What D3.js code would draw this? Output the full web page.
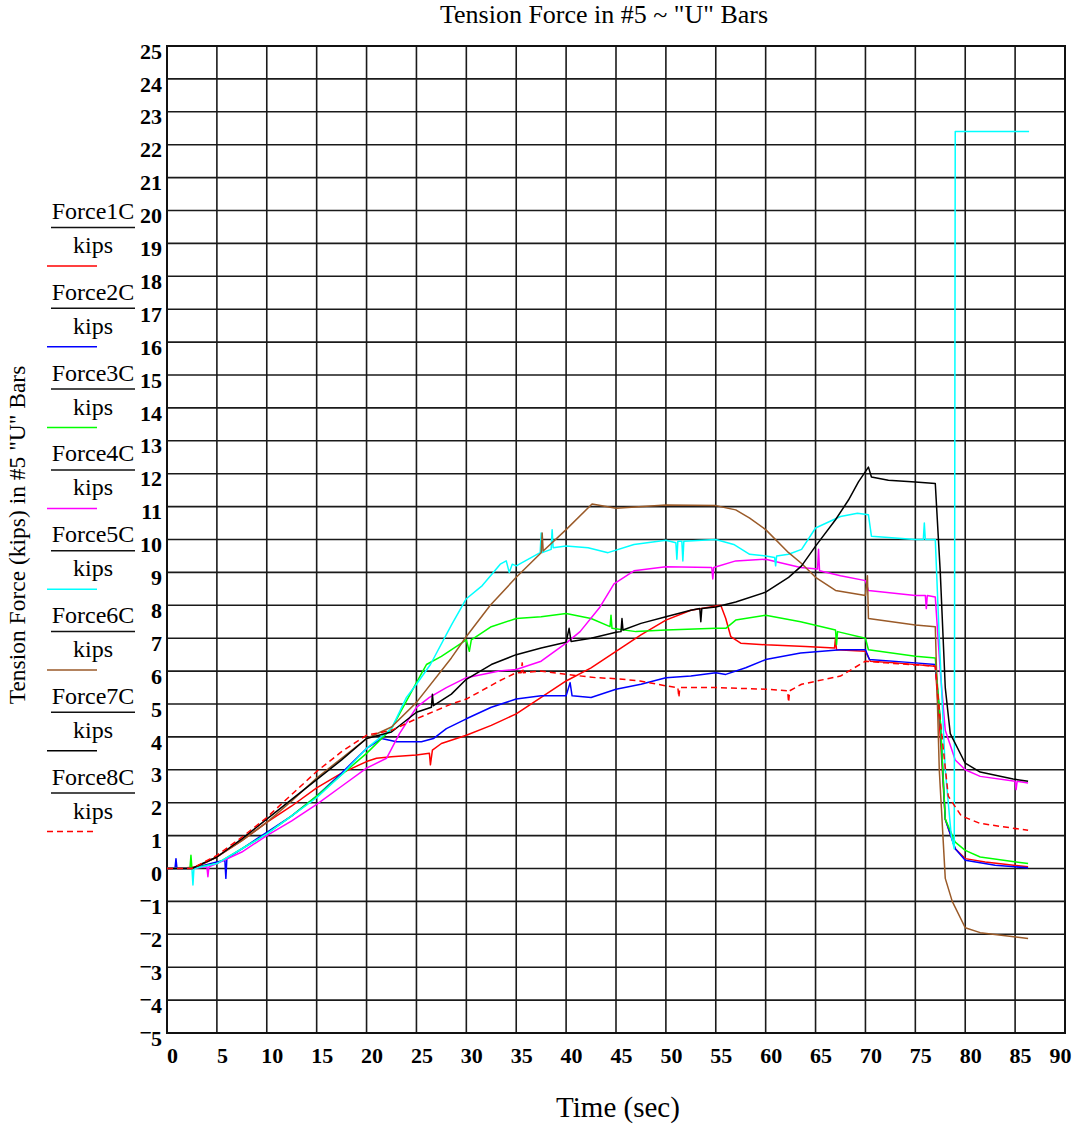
<!DOCTYPE html>
<html lang="en">
<head>
    <meta charset="utf-8">
    <script type="application/javascript" src="https://d3js.org/d3.v7.min.js"></script>
    <style>
        body { margin: 0; background: white; }
        text { font-family: "Liberation Serif", "Times New Roman", serif; fill: black; }
        .grid line { stroke: #1a1a1a; stroke-width: 1.6px; }
        .tick-lbl { font-size: 22px; font-weight: bold; }
        .series { fill: none; stroke-width: 1.5px; stroke-linejoin: round; }
        .legend-txt { font-size: 24px; text-anchor: middle; }
    </style>
</head>
<body>
<script type="application/javascript">
    // time (sec), force (kips)
    let force1C = [[0,0],[2,0.02],[3,0.05],[5,0.35],[7.5,0.85],[10,1.4],[12.5,1.9],[15,2.45],[17.5,2.9],[20,3.25],
        [21,3.35],[22.5,3.4],[25,3.45],[26.3,3.5],[26.4,3.15],[26.6,3.6],[27.5,3.8],[30,4.05],[32.5,4.35],[35,4.7],
        [37.5,5.2],[40,5.7],[42.5,6.1],[45,6.6],[47.5,7.1],[50,7.55],[52.5,7.85],[55.5,8.0],[56,7.6],[56.5,7.05],
        [57.5,6.85],[60,6.8],[64,6.75],[66.9,6.7],[67,7.0],[67.1,6.65],[70,6.6],[70.5,6.3],[73,6.25],[77,6.15],
        [77.5,4.0],[78,1.5],[79,0.6],[80,0.3],[82,0.2],[86.3,0.05]];
    let force2C = [[0,0],[0.8,0],[0.9,0.3],[1,0],[2.5,0],[5,0.2],[5.8,0.25],[5.9,-0.3],[6,0.3],[7.5,0.6],[10,1.1],
        [12.5,1.6],[15,2.2],[17.5,2.9],[20,3.65],[21.5,3.95],[23,3.85],[25.5,3.85],[26.7,3.95],[28,4.25],[30,4.55],
        [32.5,4.9],[35,5.15],[37.5,5.25],[40,5.25],[40.4,5.65],[40.6,5.25],[42.5,5.2],[45,5.45],[47.5,5.6],[50,5.8],
        [52.5,5.85],[55,5.95],[56,5.9],[58,6.1],[60,6.35],[63.5,6.55],[67.5,6.65],[70,6.65],[70.4,6.35],[75,6.25],
        [77,6.2],[77.5,4.5],[78,1.5],[79,0.6],[80,0.25],[83,0.1],[86.3,0.02]];
    let force3C = [[0,0],[2.3,0],[2.4,0.4],[2.5,0],[5,0.15],[7.5,0.6],[10,1.05],[12.5,1.6],[15,2.2],[17.5,2.85],
        [20,3.5],[22.5,4.25],[25,5.65],[26,6.2],[27.5,6.45],[30,6.95],[30.3,6.6],[30.5,6.95],[32.5,7.35],[35,7.6],
        [37.5,7.65],[40,7.75],[42.5,7.6],[44.4,7.35],[44.5,7.7],[44.6,7.3],[47,7.2],[50,7.25],[55,7.3],[56,7.3],
        [57,7.55],[60,7.7],[63.5,7.5],[67,7.25],[67.1,6.8],[67.2,7.2],[70,7.0],[70.3,6.65],[75,6.45],[77,6.4],
        [77.5,4.5],[78,1.5],[79,0.8],[80,0.55],[81.5,0.35],[86.3,0.15]];
    let force4C = [[0,0],[2.5,0],[4,0.05],[4.1,-0.25],[4.2,0.05],[5,0.15],[7.5,0.5],[10,1.0],[12.5,1.45],[15,1.95],
        [17.5,2.5],[20,3.05],[22,3.35],[23.3,4.1],[25,4.9],[26.3,5.2],[28,5.5],[30,5.8],[33.3,6.0],[35,6.05],
        [37.5,6.3],[40,6.85],[41.4,7.2],[43.4,7.95],[44.8,8.65],[46.8,9.05],[50,9.17],[54.6,9.15],[54.7,8.8],
        [54.8,9.15],[57,9.35],[60,9.4],[63.5,9.15],[65.2,9.1],[65.3,9.7],[65.4,9.05],[67.5,8.9],[70,8.75],[70.3,8.45],
        [75,8.3],[76,8.3],[76.1,7.9],[76.2,8.3],[77,8.25],[77.5,6],[78,4.2],[79,3.3],[80,3.0],[81.5,2.8],[85,2.65],
        [85.1,2.4],[85.2,2.65],[86.3,2.6]];
    let force5C = [[0,0],[2.5,0],[2.6,-0.5],[2.7,0],[5,0.15],[7.5,0.6],[10,1.05],[12.5,1.6],[15,2.15],[17.5,2.85],
        [20,3.65],[22.5,4.25],[24,5.2],[25,5.6],[26.4,6.2],[28.5,7.4],[30,8.2],[31.6,8.6],[33.4,9.25],[34,9.35],
        [34.3,9.0],[34.6,9.25],[35,9.2],[37.4,9.6],[37.5,10.2],[37.6,9.6],[38.5,9.7],[38.6,10.3],[38.7,9.75],[40,9.8],
        [42.2,9.75],[44.2,9.6],[46.8,9.85],[50,9.98],[51,9.9],[51.1,9.4],[51.2,9.95],[51.6,9.95],[51.7,9.35],[51.8,9.95],
        [55,10.0],[56.8,9.85],[58.4,9.55],[60,9.5],[60.9,9.45],[61,9.2],[61.1,9.5],[62.3,9.55],[63.6,9.7],[65,10.35],
        [67.5,10.7],[69.2,10.8],[70.3,10.75],[70.6,10.1],[75,10.0],[75.8,10.0],[75.9,10.5],[76,10.0],[77,10.0],
        [77.4,7],[78,3],[78.6,1.0],[78.9,0.6],[79,22.4],[86.4,22.4]];
    let force6C = [[0,0],[2.5,0],[5,0.35],[7.5,0.85],[10,1.4],[12.5,2.05],[15,2.75],[17.5,3.35],[20,3.95],[22.5,4.3],
        [25,5.05],[28.5,6.4],[30,7.05],[32.4,8.0],[35,8.85],[37.5,9.6],[37.6,10.2],[37.7,9.65],[40,10.3],[42.6,11.08],
        [45,10.95],[50,11.05],[55,11.03],[57,10.9],[58.4,10.65],[60,10.3],[62.3,9.6],[63.6,9.27],[65,8.85],[67,8.45],
        [70,8.3],[70.2,8.9],[70.3,7.6],[75,7.4],[77,7.35],[77.4,3],[78,-0.3],[78.7,-1.0],[80,-1.8],[81.5,-1.95],
        [86.3,-2.13]];
    let force7C = [[0,0],[2.5,0],[5,0.35],[7.5,0.9],[10,1.5],[12.5,2.1],[15,2.7],[17.5,3.3],[20,3.95],[22.5,4.15],
        [25,4.75],[26.5,4.9],[26.6,5.3],[26.7,4.95],[28.5,5.3],[30,5.75],[32.5,6.2],[35,6.5],[37.5,6.7],[40,6.88],
        [40.3,7.3],[40.5,6.9],[42.5,7.0],[45,7.18],[45.5,7.2],[45.6,7.6],[45.7,7.25],[47.5,7.45],[50,7.65],[52.5,7.85],
        [53.4,7.9],[53.5,7.5],[53.6,7.9],[55,7.95],[57,8.1],[60,8.4],[62.3,8.85],[63.6,9.2],[65,9.8],[67,10.6],
        [68.3,11.2],[69.3,11.75],[70.3,12.2],[70.6,11.9],[72.3,11.8],[75,11.75],[77,11.7],[77.5,9],[78,5.5],
        [78.5,4.1],[80,3.2],[81.5,2.93],[84.8,2.72],[86.3,2.65]];
    let force8C = [[0,0],[2.5,0],[5,0.4],[7.5,0.95],[10,1.55],[12.5,2.25],[15,2.95],[17.5,3.55],[20,4.05],[22.5,4.2],
        [25,4.55],[28.5,5.0],[30,5.15],[33.3,5.7],[35,5.95],[35.5,5.95],[35.6,6.25],[35.7,5.95],[37.4,6.0],[40,5.9],
        [43,5.8],[45,5.77],[47.4,5.7],[50,5.55],[51.2,5.5],[51.3,5.2],[51.4,5.5],[55,5.5],[60,5.45],[62.2,5.4],
        [62.3,5.05],[62.4,5.4],[63.6,5.6],[67.5,5.85],[70,6.3],[72,6.25],[77,6.15],[77.5,4.5],[78.3,2.2],
        [79.6,1.6],[81.5,1.37],[86.3,1.16]];

    let seriesNames = ['Force1C', 'Force2C', 'Force3C', 'Force4C', 'Force5C', 'Force6C', 'Force7C', 'Force8C'];
    let seriesData = [force1C, force2C, force3C, force4C, force5C, force6C, force7C, force8C];
    let seriesColors = ['#ff0000', '#0000ff', '#00ff00', '#ff00ff', '#00ffff', '#9a5a28', '#000000', '#ff0000'];
    let xTicks = d3.range(0, 91, 5);
    let yTicks = d3.range(-5, 26, 1);

    let svg = d3.select('body').append('svg')
        .attr('width', 1087).attr('height', 1124);

    let x = d3.scaleLinear().domain([0, 90]).range([167, 1065]);
    let y = d3.scaleLinear().domain([-5, 25]).range([1033, 46]);

    // grid
    let grid = svg.append('g').attr('class', 'grid');
    grid.selectAll('.vx').data(xTicks).enter().append('line')
        .attr('x1', d => x(d)).attr('x2', d => x(d))
        .attr('y1', y(-5)).attr('y2', y(25));
    grid.selectAll('.hy').data(yTicks).enter().append('line')
        .attr('x1', x(0)).attr('x2', x(90))
        .attr('y1', d => y(d)).attr('y2', d => y(d));
    svg.append('rect')
        .attr('x', x(0)).attr('y', y(25))
        .attr('width', x(90) - x(0)).attr('height', y(-5) - y(25))
        .attr('fill', 'none').attr('stroke', '#111').attr('stroke-width', 2);

    // tick labels
    let yAxis = svg.append('g').attr('transform', 'translate(' + x(0) + ',0)')
        .call(d3.axisLeft(y).tickValues(yTicks).tickSize(0).tickPadding(5).tickFormat(d => Math.abs(d)));
    let xAxis = svg.append('g').attr('transform', 'translate(0,' + y(-5) + ')')
        .call(d3.axisBottom(x).tickValues(xTicks).tickSize(0).tickPadding(14));
    [yAxis, xAxis].forEach(function (a) {
        a.select('.domain').remove();
        a.selectAll('text').attr('class', 'tick-lbl').attr('font-family', null).attr('font-size', null);
    });
    yAxis.selectAll('text').attr('dy', '0.55em');
    xAxis.selectAll('text').attr('dx', d => d === 90 ? -5 : 5);
    // raised minus sign, as in the source
    yAxis.selectAll('.tick').filter(d => d < 0).append('text')
        .attr('class', 'tick-lbl')
        .attr('x', -15).attr('y', 6)
        .attr('text-anchor', 'end')
        .text('\u2212');

    // curves
    let line = d3.line().x(d => x(d[0])).y(d => y(d[1]));
    svg.append('g').selectAll('path')
        .data(seriesData).enter().append('path')
        .attr('class', 'series')
        .attr('d', line)
        .attr('stroke', (d, i) => seriesColors[i])
        .attr('stroke-dasharray', (d, i) => i === 7 ? '6,4' : null);

    // legend on the left
    let legend = svg.append('g').selectAll('g')
        .data(seriesNames).enter().append('g')
        .attr('transform', (d, i) => 'translate(0,' + (i * 80.8) + ')');
    legend.append('text').attr('class', 'legend-txt')
        .attr('x', 93).attr('y', 219).text(d => d);
    legend.append('line')
        .attr('x1', 51).attr('x2', 135).attr('y1', 227.5).attr('y2', 227.5)
        .attr('stroke', '#111').attr('stroke-width', 1.5);
    legend.append('text').attr('class', 'legend-txt')
        .attr('x', 93).attr('y', 253).text('kips');
    legend.append('line')
        .attr('x1', 47).attr('x2', 97).attr('y1', 266).attr('y2', 266)
        .attr('stroke', (d, i) => seriesColors[i])
        .attr('stroke-width', 1.5)
        .attr('stroke-dasharray', (d, i) => i === 7 ? '6,4' : null);

    // titles
    svg.append('text')
        .attr('x', 604).attr('y', 23)
        .attr('text-anchor', 'middle').attr('font-size', 26)
        .text('Tension Force in #5 ~ "U" Bars');
    svg.append('text')
        .attr('x', 618).attr('y', 1117)
        .attr('text-anchor', 'middle').attr('font-size', 29)
        .text('Time (sec)');
    svg.append('text')
        .attr('transform', 'translate(25,535) rotate(-90)')
        .attr('text-anchor', 'middle').attr('font-size', 23.5)
        .attr('fill', '#222')
        .text('Tension Force (kips) in #5 "U" Bars');
</script>
</body>
</html>
